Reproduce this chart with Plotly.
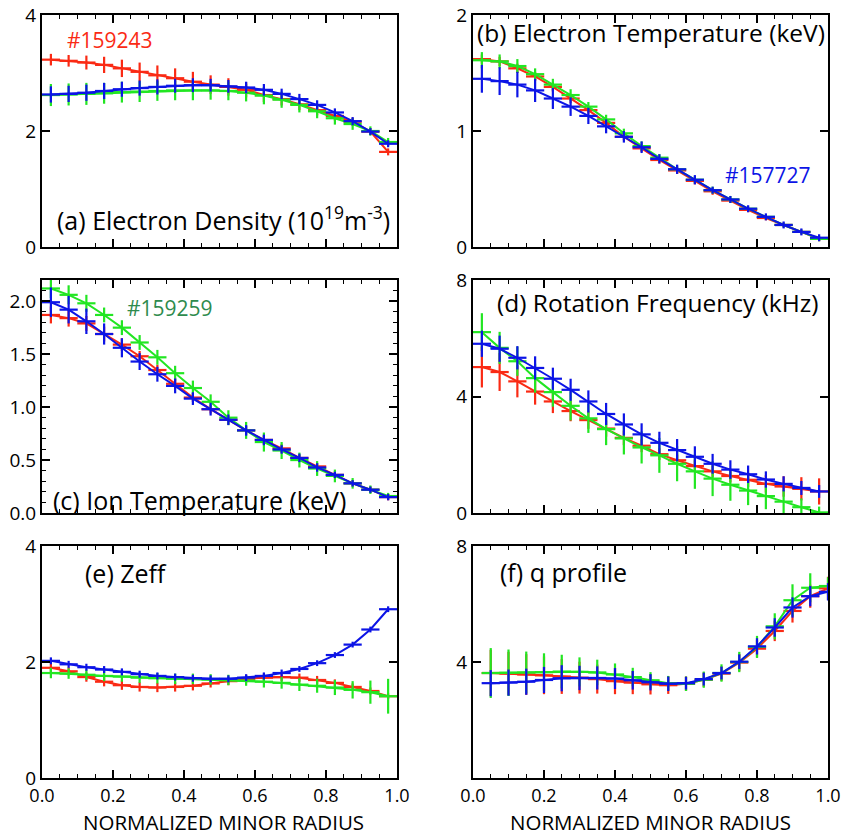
import plotly.graph_objects as go

# ---------------- data ----------------
r_core = [0.025, 0.075, 0.125, 0.175, 0.225, 0.275, 0.325, 0.375, 0.425, 0.475,
          0.525, 0.575, 0.625, 0.675, 0.725, 0.775, 0.825, 0.875, 0.925, 0.975]
r_q = [0.05, 0.10, 0.15, 0.20, 0.25, 0.30, 0.35, 0.40, 0.45, 0.50,
       0.55, 0.60, 0.65, 0.70, 0.75, 0.80, 0.85, 0.90, 0.95, 1.00]

# (a) electron density (1e19 m^-3)
ne_red = [3.23, 3.21, 3.18, 3.14, 3.08, 3.02, 2.96, 2.91, 2.85, 2.80, 2.76, 2.71, 2.62, 2.55, 2.46, 2.36, 2.26, 2.16, 1.99, 1.64]
ne_red_err = [0.10, 0.10, 0.12, 0.14, 0.15, 0.16, 0.17, 0.17, 0.17, 0.16, 0.15, 0.13, 0.12, 0.11, 0.10, 0.09, 0.08, 0.07, 0.06, 0.06]
ne_grn = [2.62, 2.63, 2.64, 2.65, 2.67, 2.68, 2.69, 2.70, 2.70, 2.70, 2.69, 2.66, 2.61, 2.54, 2.45, 2.34, 2.22, 2.12, 2.00, 1.81]
ne_grn_err = [0.19, 0.19, 0.19, 0.18, 0.18, 0.18, 0.17, 0.17, 0.17, 0.16, 0.16, 0.15, 0.15, 0.14, 0.13, 0.12, 0.11, 0.10, 0.08, 0.07]
ne_blu = [2.63, 2.64, 2.66, 2.69, 2.72, 2.74, 2.76, 2.78, 2.79, 2.79, 2.77, 2.75, 2.71, 2.64, 2.55, 2.45, 2.32, 2.17, 1.99, 1.78]
ne_blu_err = [0.14, 0.14, 0.14, 0.14, 0.13, 0.13, 0.13, 0.12, 0.12, 0.11, 0.11, 0.10, 0.10, 0.09, 0.09, 0.08, 0.07, 0.07, 0.06, 0.06]

# (b) electron temperature (keV)
te_red = [1.62, 1.60, 1.54, 1.47, 1.38, 1.28, 1.18, 1.07, 0.95, 0.85, 0.75, 0.66, 0.57, 0.48, 0.40, 0.32, 0.25, 0.19, 0.13, 0.07]
te_red_err = [0.04, 0.04, 0.04, 0.04, 0.04, 0.04, 0.03, 0.03, 0.03, 0.03, 0.03, 0.03, 0.03, 0.03, 0.02, 0.02, 0.02, 0.02, 0.02, 0.02]
te_grn = [1.61, 1.60, 1.56, 1.49, 1.40, 1.31, 1.21, 1.10, 0.98, 0.87, 0.77, 0.67, 0.58, 0.49, 0.41, 0.33, 0.26, 0.19, 0.13, 0.07]
te_grn_err = [0.07, 0.06, 0.06, 0.05, 0.05, 0.05, 0.04, 0.04, 0.04, 0.04, 0.03, 0.03, 0.03, 0.03, 0.03, 0.02, 0.02, 0.02, 0.02, 0.02]
te_blu = [1.45, 1.43, 1.40, 1.35, 1.28, 1.21, 1.13, 1.04, 0.95, 0.86, 0.76, 0.67, 0.58, 0.49, 0.41, 0.33, 0.26, 0.19, 0.13, 0.08]
te_blu_err = [0.12, 0.12, 0.11, 0.10, 0.09, 0.08, 0.07, 0.06, 0.05, 0.05, 0.04, 0.04, 0.04, 0.03, 0.03, 0.03, 0.03, 0.03, 0.03, 0.03]

# (c) ion temperature (keV)
ti_red = [1.87, 1.84, 1.79, 1.69, 1.59, 1.48, 1.35, 1.22, 1.09, 0.98, 0.88, 0.78, 0.69, 0.61, 0.52, 0.44, 0.36, 0.28, 0.22, 0.15]
ti_red_err = [0.08, 0.08, 0.07, 0.07, 0.06, 0.05, 0.05, 0.05, 0.04, 0.04, 0.04, 0.04, 0.04, 0.04, 0.03, 0.03, 0.03, 0.03, 0.03, 0.03]
ti_grn = [2.12, 2.06, 1.98, 1.87, 1.75, 1.61, 1.47, 1.32, 1.18, 1.05, 0.90, 0.78, 0.67, 0.59, 0.50, 0.42, 0.35, 0.28, 0.22, 0.16]
ti_grn_err = [0.09, 0.09, 0.08, 0.07, 0.07, 0.07, 0.07, 0.07, 0.07, 0.07, 0.07, 0.08, 0.09, 0.08, 0.07, 0.07, 0.06, 0.05, 0.04, 0.03]
ti_blu = [1.99, 1.92, 1.81, 1.69, 1.56, 1.43, 1.31, 1.20, 1.08, 0.98, 0.88, 0.78, 0.69, 0.60, 0.52, 0.43, 0.36, 0.28, 0.22, 0.15]
ti_blu_err = [0.14, 0.13, 0.12, 0.10, 0.09, 0.08, 0.07, 0.07, 0.06, 0.06, 0.05, 0.05, 0.05, 0.04, 0.04, 0.04, 0.03, 0.03, 0.03, 0.03]

# (d) rotation frequency (kHz)
rot_red = [5.01, 4.84, 4.52, 4.17, 3.83, 3.50, 3.19, 2.90, 2.58, 2.31, 2.02, 1.81, 1.61, 1.43, 1.27, 1.14, 1.00, 0.91, 0.83, 0.74]
rot_red_err = [0.70, 0.65, 0.55, 0.45, 0.40, 0.35, 0.30, 0.28, 0.25, 0.22, 0.20, 0.20, 0.20, 0.20, 0.22, 0.25, 0.30, 0.35, 0.40, 0.45]
rot_grn = [6.21, 5.67, 5.21, 4.63, 4.15, 3.68, 3.25, 2.88, 2.56, 2.25, 1.98, 1.69, 1.43, 1.18, 0.97, 0.77, 0.58, 0.39, 0.20, 0.02]
rot_grn_err = [0.65, 0.55, 0.50, 0.50, 0.50, 0.50, 0.50, 0.55, 0.55, 0.55, 0.60, 0.60, 0.60, 0.60, 0.55, 0.50, 0.45, 0.40, 0.30, 0.20]
rot_blu = [5.81, 5.64, 5.33, 4.98, 4.61, 4.23, 3.83, 3.40, 3.04, 2.70, 2.41, 2.16, 1.93, 1.69, 1.49, 1.33, 1.15, 1.00, 0.86, 0.74]
rot_blu_err = [0.45, 0.45, 0.40, 0.40, 0.38, 0.38, 0.38, 0.38, 0.38, 0.38, 0.38, 0.38, 0.36, 0.34, 0.32, 0.30, 0.28, 0.26, 0.24, 0.22]

# (e) Zeff
zf_red = [1.90, 1.84, 1.74, 1.66, 1.60, 1.57, 1.56, 1.57, 1.59, 1.63, 1.67, 1.71, 1.73, 1.74, 1.73, 1.69, 1.64, 1.57, 1.50, 1.41]
zf_red_err = [0.07, 0.07, 0.08, 0.08, 0.08, 0.08, 0.08, 0.08, 0.08, 0.07, 0.07, 0.07, 0.07, 0.07, 0.07, 0.07, 0.06, 0.06, 0.06, 0.05]
zf_grn = [1.81, 1.80, 1.78, 1.76, 1.75, 1.73, 1.72, 1.71, 1.71, 1.70, 1.69, 1.68, 1.66, 1.64, 1.61, 1.59, 1.56, 1.52, 1.48, 1.41]
zf_grn_err = [0.09, 0.09, 0.09, 0.09, 0.09, 0.09, 0.09, 0.09, 0.09, 0.09, 0.09, 0.09, 0.10, 0.10, 0.11, 0.12, 0.13, 0.15, 0.20, 0.30]
zf_blu = [2.02, 1.96, 1.91, 1.87, 1.83, 1.79, 1.76, 1.74, 1.72, 1.71, 1.71, 1.73, 1.76, 1.81, 1.88, 1.98, 2.12, 2.30, 2.56, 2.91]
zf_blu_err = [0.06, 0.06, 0.06, 0.06, 0.06, 0.06, 0.06, 0.06, 0.06, 0.06, 0.06, 0.06, 0.06, 0.06, 0.05, 0.05, 0.05, 0.05, 0.05, 0.05]

# (f) q profile
q_red = [3.62, 3.60, 3.57, 3.54, 3.50, 3.46, 3.41, 3.34, 3.29, 3.23, 3.20, 3.25, 3.39, 3.60, 3.98, 4.46, 5.07, 5.76, 6.27, 6.54]
q_red_err = [0.80, 0.75, 0.70, 0.65, 0.60, 0.55, 0.50, 0.45, 0.40, 0.35, 0.30, 0.25, 0.25, 0.25, 0.30, 0.30, 0.35, 0.40, 0.40, 0.40]
q_grn = [3.62, 3.63, 3.64, 3.65, 3.67, 3.66, 3.64, 3.57, 3.48, 3.37, 3.27, 3.25, 3.39, 3.62, 4.00, 4.52, 5.23, 6.13, 6.56, 6.62]
q_grn_err = [0.86, 0.80, 0.72, 0.65, 0.58, 0.50, 0.44, 0.38, 0.32, 0.28, 0.25, 0.25, 0.28, 0.30, 0.35, 0.38, 0.45, 0.55, 0.50, 0.30]
q_blu = [3.27, 3.29, 3.32, 3.38, 3.44, 3.45, 3.45, 3.43, 3.37, 3.30, 3.25, 3.27, 3.41, 3.62, 4.01, 4.54, 5.19, 5.88, 6.27, 6.42]
q_blu_err = [0.45, 0.45, 0.45, 0.45, 0.45, 0.42, 0.40, 0.36, 0.32, 0.28, 0.25, 0.22, 0.22, 0.22, 0.25, 0.28, 0.32, 0.35, 0.35, 0.30]

x_ticks = [0.0, 0.2, 0.4, 0.6, 0.8, 1.0]
x_ticktext = ["0.0", "0.2", "0.4", "0.6", "0.8", "1.0"]

RED = "#fa2a14"
GRN = "#22e622"
BLU = "#0c14e6"
GRN_TXT = "#2e8b4e"
FONT = "'Open Sans', sans-serif"

W, H = 842, 835
# pixel boxes (left, right, top, bottom)
cols = [(42, 397), (473, 828)]
rows = [(15, 247), (280, 513), (546, 778)]

panels = [
    # (row, col, x, series, yrange, tickvals, ticktext, minor dtick)
    (0, 0, r_core, [(ne_red, ne_red_err, RED), (ne_grn, ne_grn_err, GRN), (ne_blu, ne_blu_err, BLU)],
     [0, 4], [0, 2, 4], ["0", "2", "4"], None),
    (0, 1, r_core, [(te_red, te_red_err, RED), (te_grn, te_grn_err, GRN), (te_blu, te_blu_err, BLU)],
     [0, 2], [0, 1, 2], ["0", "1", "2"], None),
    (1, 0, r_core, [(ti_red, ti_red_err, RED), (ti_grn, ti_grn_err, GRN), (ti_blu, ti_blu_err, BLU)],
     [0, 2.2], [0, 0.5, 1.0, 1.5, 2.0], ["0.0", "0.5", "1.0", "1.5", "2.0"], 0.1),
    (1, 1, r_core, [(rot_red, rot_red_err, RED), (rot_grn, rot_grn_err, GRN), (rot_blu, rot_blu_err, BLU)],
     [0, 8], [0, 4, 8], ["0", "4", "8"], None),
    (2, 0, r_core, [(zf_red, zf_red_err, RED), (zf_grn, zf_grn_err, GRN), (zf_blu, zf_blu_err, BLU)],
     [0, 4], [0, 2, 4], ["0", "2", "4"], None),
    (2, 1, r_q, [(q_red, q_red_err, RED), (q_grn, q_grn_err, GRN), (q_blu, q_blu_err, BLU)],
     [0, 8], [4, 8], ["4", "8"], None),
]

fig = go.Figure()
layout = {}
for i, (r, c, xs, series, yr, tv, tt, ydminor) in enumerate(panels):
    n = i + 1
    xa = "xaxis" if n == 1 else f"xaxis{n}"
    ya = "yaxis" if n == 1 else f"yaxis{n}"
    xref = "x" if n == 1 else f"x{n}"
    yref = "y" if n == 1 else f"y{n}"
    l, rr = cols[c]
    t, b = rows[r]
    for ys, es, col in series:
        fig.add_trace(go.Scatter(
            x=xs, y=ys, xaxis=xref, yaxis=yref, mode="lines+markers",
            line=dict(color=col, width=2),
            marker=dict(symbol="line-ew", size=13, color=col, line=dict(color=col, width=2.2)),
            error_y=dict(type="data", array=es, visible=True, color=col, thickness=2.2, width=0),
            showlegend=False, hoverinfo="skip"))
    layout[xa] = dict(
        domain=[l / W, rr / W], range=[0, 1], anchor=yref, automargin=False,
        showline=True, linecolor="black", linewidth=2, mirror="allticks",
        ticks="inside", ticklen=8, tickwidth=1.5, tickcolor="black",
        tickvals=x_ticks, ticktext=x_ticktext,
        showticklabels=(r == 2), showgrid=False, zeroline=False,
        tickfont=dict(family=FONT, size=18, color="black"),
        minor=dict(dtick=0.05, tick0=0, ticks="inside", ticklen=4, tickwidth=1.2, tickcolor="black"),
    )
    ycfg = dict(
        domain=[1 - b / H, 1 - t / H], range=yr, anchor=xref, automargin=False,
        showline=True, linecolor="black", linewidth=2, mirror="allticks",
        ticks="inside", ticklen=8, tickwidth=1.5, tickcolor="black",
        tickvals=tv, ticktext=tt, showgrid=False, zeroline=False,
        tickfont=dict(family=FONT, size=19, color="black"),
    )
    if ydminor:
        ycfg["minor"] = dict(ticks="inside", ticklen=4, tickwidth=1.2, tickcolor="black", dtick=ydminor, tick0=0)
    layout[ya] = ycfg

def px2paper(x, y):
    return x / W, 1 - y / H

# (text, centre x px, centre y px, colour, font size)
annots = [
    ("#159243", 110, 40, RED, 21),
    ("(a) Electron Density (10<sup>19</sup>m<sup>-3</sup>)", 223, 218, "black", 25),
    ("(b) Electron Temperature (keV)", 651, 32, "black", 24.5),
    ("#157727", 768, 175, BLU, 21),
    ("#159259", 170, 308, GRN_TXT, 21),
    ("(c) Ion Temperature (keV)", 199, 500, "black", 25),
    ("(d) Rotation Frequency (kHz)", 658, 302, "black", 24.5),
    ("(e) Zeff", 126, 573, "black", 25),
    ("(f) q profile", 563, 572, "black", 25),
    ("NORMALIZED MINOR RADIUS", 223, 822, "black", 20.5),
    ("NORMALIZED MINOR RADIUS", 650, 822, "black", 20.5),
]
ann_list = []
for txt, ax_, ay_, col, fs in annots:
    px, py = px2paper(ax_, ay_)
    ann_list.append(dict(text=txt, x=px, y=py, xref="paper", yref="paper",
                         xanchor="center", yanchor="middle", showarrow=False,
                         font=dict(family=FONT, size=fs, color=col)))

fig.update_layout(
    width=W, height=H, margin=dict(l=0, r=0, t=0, b=0, autoexpand=False),
    paper_bgcolor="white", plot_bgcolor="white",
    annotations=ann_list, **layout)

fig.write_html("out.html")
